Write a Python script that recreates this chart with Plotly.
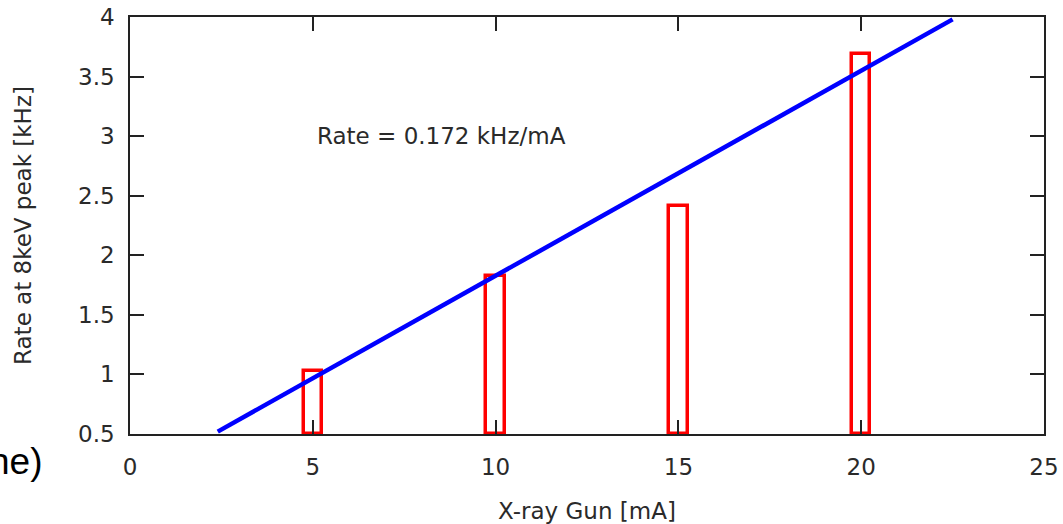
import plotly.graph_objects as go

# Data
current_mA = [5, 10, 15, 20]
rate_kHz = [1.03, 1.83, 2.41, 3.69]
fit_x = [2.4, 22.5]
fit_y = [0.52, 3.98]
y_ticks = [0.5, 1, 1.5, 2, 2.5, 3, 3.5, 4]
y_tick_labels = ["0.5", "1", "1.5", "2", "2.5", "3", "3.5", "4"]
x_ticks = [0, 5, 10, 15, 20, 25]
x_tick_labels = ["0", "5", "10", "15", "20", "25"]
base_value = 0.5

font_main = "DejaVu Sans"
fs = 23
txt_col = "#2a2a2a"

fig = go.Figure()
fig.add_trace(go.Bar(
    x=current_mA,
    y=[r - base_value for r in rate_kHz],
    base=base_value,
    width=0.5,
    marker=dict(color="rgba(255,255,255,0)", line=dict(color="#ff0000", width=3.5)),
    showlegend=False,
))
fig.add_trace(go.Scatter(
    x=fit_x, y=fit_y, mode="lines",
    line=dict(color="#0000ff", width=4.5),
    showlegend=False,
))

axis_common = dict(
    showline=True, linecolor="#222222", linewidth=1.5, mirror="ticks",
    ticks="inside", ticklen=14, tickwidth=1.5, tickcolor="#222222",
    showgrid=False, zeroline=False,
    tickfont=dict(family=font_main, size=fs, color=txt_col),
)

fig.update_xaxes(
    range=[0, 25], tickvals=x_ticks, ticktext=x_tick_labels,
    title=dict(text="X-ray Gun [mA]", font=dict(family=font_main, size=fs, color=txt_col), standoff=24),
    ticklabelstandoff=12,
    automargin=False,
    **axis_common,
)
fig.update_yaxes(
    range=[0.5, 4], tickvals=y_ticks, ticktext=y_tick_labels,
    title=dict(text="Rate at 8keV peak [kHz]", font=dict(family=font_main, size=fs, color=txt_col), standoff=40),
    ticklabelstandoff=9,
    automargin=False,
    **axis_common,
)

fig.add_annotation(
    x=5.06, y=3.0, xref="x", yref="y", xanchor="left", yanchor="middle",
    text="Rate = 0.172 kHz/mA", showarrow=False,
    font=dict(family=font_main, size=fs, color=txt_col),
)
fig.add_annotation(
    x=-0.094, y=-0.066, xref="paper", yref="paper", xanchor="right", yanchor="middle",
    text="ne)", showarrow=False,
    font=dict(family="Liberation Sans", size=37, color="#000000"),
)

fig.update_layout(
    width=1063, height=524,
    margin=dict(l=130, r=19, t=17, b=90, autoexpand=False),
    paper_bgcolor="white", plot_bgcolor="white",
    bargap=0,
)

fig.write_html("out.html")
